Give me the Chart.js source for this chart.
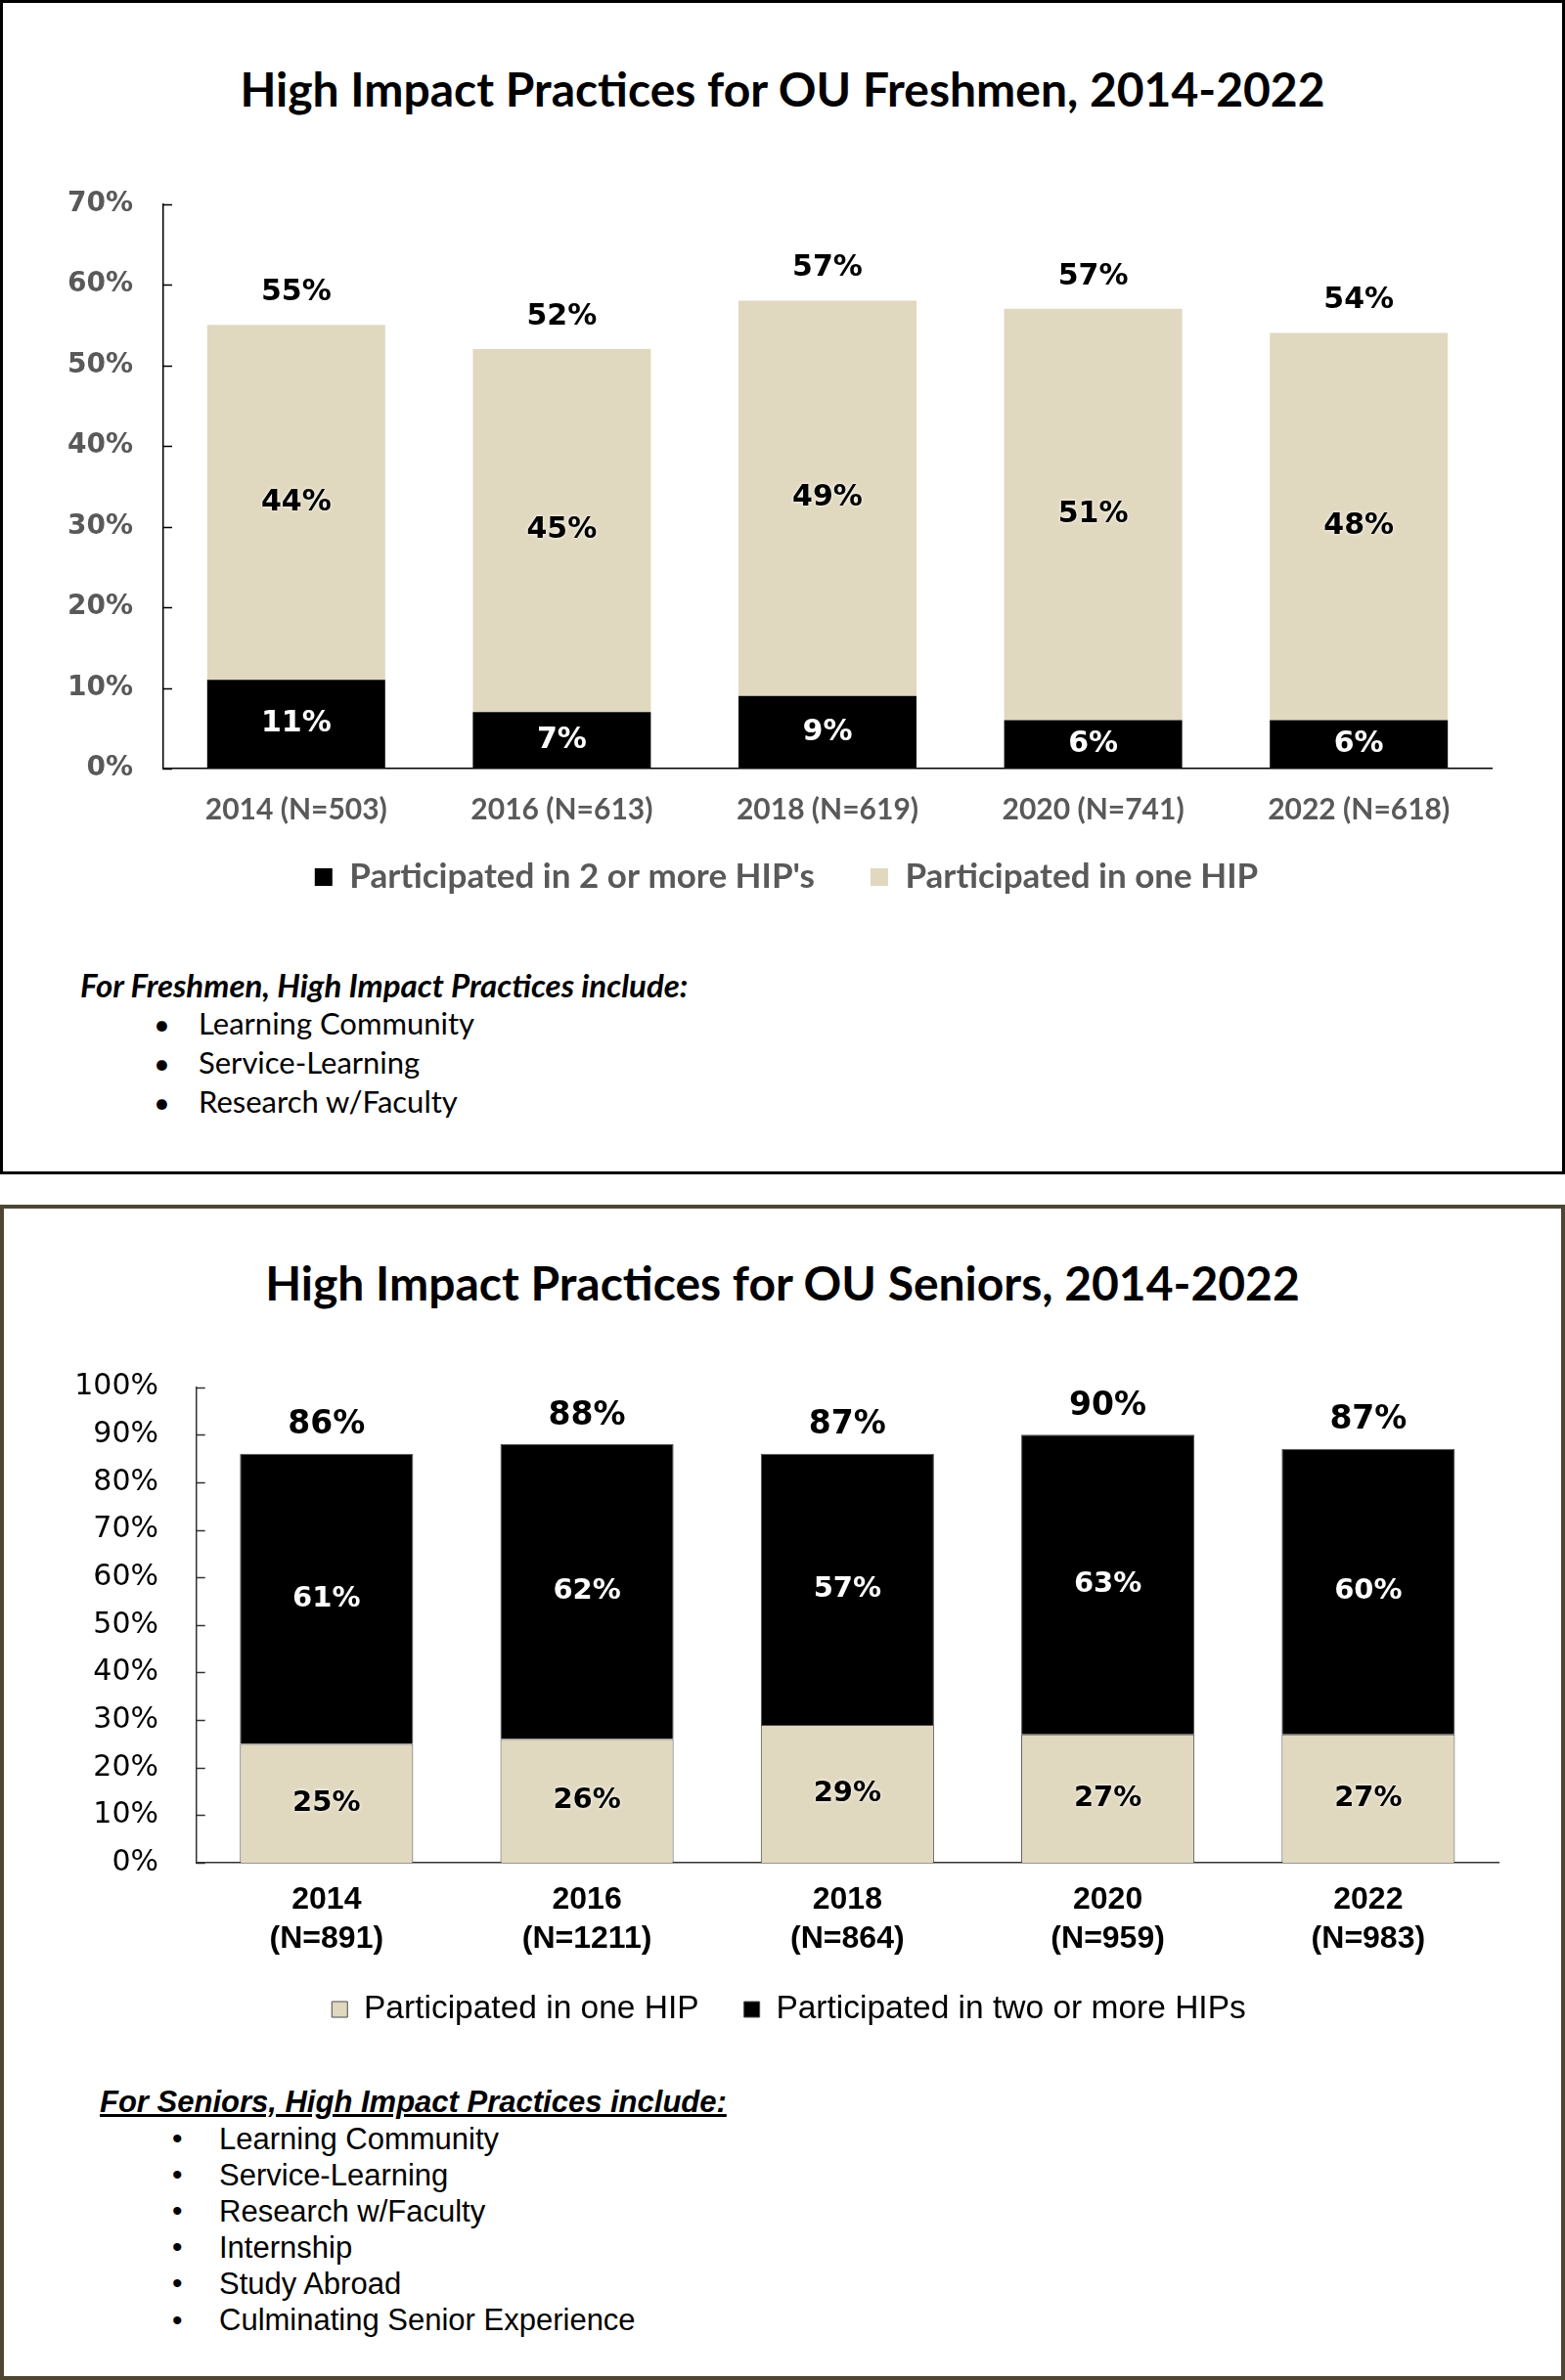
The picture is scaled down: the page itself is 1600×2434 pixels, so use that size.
<!DOCTYPE html>
<html>
<head>
<meta charset="utf-8">
<script src="https://cdn.jsdelivr.net/npm/chart.js@4.4.1/dist/chart.umd.min.js"></script>
<style>
html,body{margin:0;padding:0;background:#fff;}
#page{position:relative;width:1600px;height:2434px;overflow:hidden;background:#fff;}
.panel{position:absolute;left:0;width:1600px;box-sizing:border-box;}
.txt{position:absolute;white-space:nowrap;}
canvas{position:absolute;left:0;}
</style>
</head>
<body>
<div id="page">
  <div class="panel" style="top:0;height:1201px;border:3px solid #000;"></div>
  <div class="panel" style="top:1232px;height:1202px;border:4px solid #4E4632;"></div>
  <canvas id="fresh" width="1600" height="813" style="top:150px;"></canvas>
  <canvas id="senior" width="1600" height="740" style="top:1360px;"></canvas>
</div>
<script>
// ---------- DATA ----------
const freshmenTitle = 'High Impact Practices for OU Freshmen, 2014-2022';
const freshmenCategories = ['2014 (N=503)', '2016 (N=613)', '2018 (N=619)', '2020 (N=741)', '2022 (N=618)'];
const freshmenTwoPlus = [11, 7, 9, 6, 6];
const freshmenOne = [44, 45, 49, 51, 48];
const freshmenTotals = [55, 52, 57, 57, 54];
const freshmenSeriesNames = ["Participated in 2 or more HIP's", 'Participated in one HIP'];
const freshmenNotesHeading = 'For Freshmen, High Impact Practices include:';
const freshmenNotes = ['Learning Community', 'Service-Learning', 'Research w/Faculty'];

const seniorTitle = 'High Impact Practices for OU Seniors, 2014-2022';
const seniorCategories = [['2014', '(N=891)'], ['2016', '(N=1211)'], ['2018', '(N=864)'], ['2020', '(N=959)'], ['2022', '(N=983)']];
const seniorOne = [25, 26, 29, 27, 27];
const seniorTwoPlus = [61, 62, 57, 63, 60];
const seniorTotals = [86, 88, 87, 90, 87];
const seniorSeriesNames = ['Participated in one HIP', 'Participated in two or more HIPs'];
const seniorNotesHeading = 'For Seniors, High Impact Practices include:';
const seniorNotes = ['Learning Community', 'Service-Learning', 'Research w/Faculty', 'Internship', 'Study Abroad', 'Culminating Senior Experience'];

const TAN = '#E0D8BF';
const BLACK = '#000000';

// ---------- TEXT ----------
const page = document.getElementById('page');
function addText(text, opts) {
  const d = document.createElement('div');
  d.className = 'txt';
  d.textContent = text;
  const size = opts.size;
  d.style.font = (opts.style || '') + ' ' + (opts.weight || 'normal') + ' ' + size + 'px ' + opts.family;
  d.style.lineHeight = size + 'px';
  d.style.color = opts.color || '#000';
  d.style.top = (opts.cy - size / 2) + 'px';
  if (opts.center) {
    d.style.left = '0px'; d.style.width = '1600px'; d.style.textAlign = 'center';
  } else {
    d.style.left = opts.x + 'px';
  }
  if (opts.underline) d.style.textDecoration = 'underline';
  page.appendChild(d);
}
addText(freshmenTitle, {size: 48, weight: 'bold', family: 'Lato', cy: 91, center: true});
addText(seniorTitle, {size: 48, weight: 'bold', family: 'Lato', cy: 1312, center: true});

addText(freshmenNotesHeading, {size: 33, weight: 'bold', style: 'italic', family: 'Lato', x: 82, cy: 1007});
freshmenNotes.forEach((t, i) => {
  const cy = 1046 + i * 40;
  addText('\u2022', {size: 29, family: 'Lato', x: 157, cy});
  addText(t, {size: 31, family: 'Lato', x: 203, cy});
});

addText(seniorNotesHeading, {size: 31, weight: 'bold', style: 'italic', family: '"Liberation Sans", Arial', x: 102, cy: 2149, underline: true});
seniorNotes.forEach((t, i) => {
  const cy = 2187 + i * 37.1;
  addText('\u2022', {size: 30, family: '"Liberation Sans", Arial', x: 176, cy});
  addText(t, {size: 31, family: '"Liberation Sans", Arial', x: 224, cy});
});

// ---------- PLUGINS ----------
const barLabels = {
  id: 'barLabels',
  afterDatasetsDraw(chart, args, opts) {
    const ctx = chart.ctx;
    ctx.save();
    ctx.textAlign = 'center';
    ctx.textBaseline = 'middle';
    chart.data.datasets.forEach((ds, di) => {
      const meta = chart.getDatasetMeta(di);
      meta.data.forEach((el, i) => {
        const p = el.getProps(['x', 'y', 'base'], true);
        ctx.font = opts.innerFont;
        ctx.fillStyle = opts.innerColors[di];
        if (opts.glow[di]) {
          ctx.shadowColor = 'rgba(255,255,255,0.95)';
          ctx.shadowBlur = 4;
        } else {
          ctx.shadowColor = 'rgba(0,0,0,0)';
          ctx.shadowBlur = 0;
        }
        ctx.fillText(ds.data[i] + '%', p.x, (p.y + p.base) / 2 + opts.innerDy);
      });
    });
    ctx.shadowColor = 'rgba(0,0,0,0)';
    ctx.shadowBlur = 0;
    const last = chart.getDatasetMeta(chart.data.datasets.length - 1);
    ctx.font = opts.totalFont;
    ctx.fillStyle = '#000';
    last.data.forEach((el, i) => {
      const p = el.getProps(['x', 'y'], true);
      ctx.fillText(opts.totals[i] + '%', p.x, p.y - opts.totalOffset);
    });
    ctx.restore();
  }
};
const inwardTicks = {
  id: 'inwardTicks',
  afterDraw(chart, args, opts) {
    const s = chart.scales.y;
    const ctx = chart.ctx;
    ctx.save();
    ctx.strokeStyle = opts.color;
    ctx.lineWidth = opts.width;
    s.ticks.forEach(t => {
      const y = Math.round(s.getPixelForValue(t.value)) + 0.5;
      ctx.beginPath();
      ctx.moveTo(s.right, y);
      ctx.lineTo(s.right + opts.length, y);
      ctx.stroke();
    });
    ctx.restore();
  }
};
// move the legend block after layout (keeps chart area where it is)
const legendShift = {
  id: 'legendShift',
  afterLayout(chart, args, opts) {
    const l = chart.legend;
    if (!l) return;
    l.top += opts.dy; l.bottom += opts.dy;
    l.left += opts.dx; l.right += opts.dx;
  }
};

Chart.defaults.font.family = 'Lato';

// ---------- FRESHMEN CHART ----------
new Chart(document.getElementById('fresh'), {
  type: 'bar',
  data: {
    labels: freshmenCategories,
    datasets: [
      {label: freshmenSeriesNames[0], data: freshmenTwoPlus, backgroundColor: BLACK, borderWidth: 0},
      {label: freshmenSeriesNames[1], data: freshmenOne, backgroundColor: TAN, borderWidth: 0}
    ]
  },
  plugins: [barLabels, inwardTicks, legendShift],
  options: {
    responsive: false,
    animation: false,
    devicePixelRatio: 1,
    layout: {padding: {top: 58.6, left: 40, right: 75, bottom: 0}},
    datasets: {bar: {categoryPercentage: 1, barPercentage: 0.67}},
    scales: {
      x: {
        stacked: true,
        grid: {display: false, drawTicks: false},
        border: {display: true, color: '#000', width: 1.5},
        ticks: {padding: 24, color: '#595959', font: {family: 'Lato', weight: 'bold', size: 30}},
        afterFit(s) { s.height = 75; }
      },
      y: {
        stacked: true,
        min: 0, max: 70,
        grid: {display: false, drawTicks: false},
        border: {display: true, color: '#000', width: 1.5},
        ticks: {stepSize: 10, padding: 31, color: '#595959', font: {family: 'DejaVu Sans', weight: 'bold', size: 28}, callback: v => v + '%'},
        afterFit(s) { s.width = 127; }
      }
    },
    plugins: {
      title: {display: false},
      tooltip: {enabled: false},
      legend: {
        position: 'bottom',
        labels: {boxWidth: 18, boxHeight: 18, padding: 57, color: '#595959', font: {family: 'Lato', weight: 'bold', size: 35}}
      },
      legendShift: {dx: 21.5, dy: -38.5},
      barLabels: {
        totals: freshmenTotals,
        totalFont: 'bold 30px "DejaVu Sans"',
        totalOffset: 33,
        innerFont: 'bold 30px "DejaVu Sans"',
        innerColors: ['#fff', '#000'],
        glow: [false, true],
        innerDy: 0
      },
      inwardTicks: {color: '#000', width: 1.5, length: 9}
    }
  }
});

// ---------- SENIOR CHART ----------
new Chart(document.getElementById('senior'), {
  type: 'bar',
  data: {
    labels: seniorCategories,
    datasets: [
      {label: seniorSeriesNames[0], data: seniorOne, backgroundColor: TAN, borderColor: '#4a4a4a', borderWidth: 1},
      {label: seniorSeriesNames[1], data: seniorTwoPlus, backgroundColor: BLACK, borderColor: '#4a4a4a', borderWidth: 1}
    ]
  },
  plugins: [barLabels, inwardTicks, legendShift],
  options: {
    responsive: false,
    animation: false,
    devicePixelRatio: 1,
    layout: {padding: {top: 58.6, left: 40, right: 68, bottom: 0.5}},
    datasets: {bar: {categoryPercentage: 1, barPercentage: 0.665}},
    scales: {
      x: {
        stacked: true,
        grid: {display: false, drawTicks: false},
        border: {display: true, color: '#333', width: 1.5},
        ticks: {padding: 18, color: '#000', font: {family: '"Liberation Sans", Arial', weight: 'bold', size: 32, lineHeight: 1.25}},
        afterFit(s) { s.height = 105; }
      },
      y: {
        stacked: true,
        min: 0, max: 100,
        grid: {display: false, drawTicks: false},
        border: {display: true, color: '#333', width: 1.5},
        ticks: {stepSize: 10, padding: 38.7, color: '#000', font: {family: 'DejaVu Sans', weight: 'normal', size: 30}, callback: v => v + '%'},
        afterFit(s) { s.width = 160.7; }
      }
    },
    plugins: {
      title: {display: false},
      tooltip: {enabled: false},
      legend: {
        position: 'bottom',
        labels: {boxWidth: 16, boxHeight: 16, padding: 46, color: '#000', font: {family: '"Liberation Sans", Arial', weight: 'normal', size: 33.5}}
      },
      legendShift: {dx: 20.5, dy: -17.75},
      barLabels: {
        totals: seniorTotals,
        totalFont: 'bold 33px "DejaVu Sans"',
        totalOffset: 29,
        innerFont: 'bold 29px "DejaVu Sans"',
        innerColors: ['#000', '#fff'],
        glow: [true, false],
        innerDy: 0
      },
      inwardTicks: {color: '#333', width: 1.5, length: 9}
    }
  }
});
</script>
</body>
</html>
